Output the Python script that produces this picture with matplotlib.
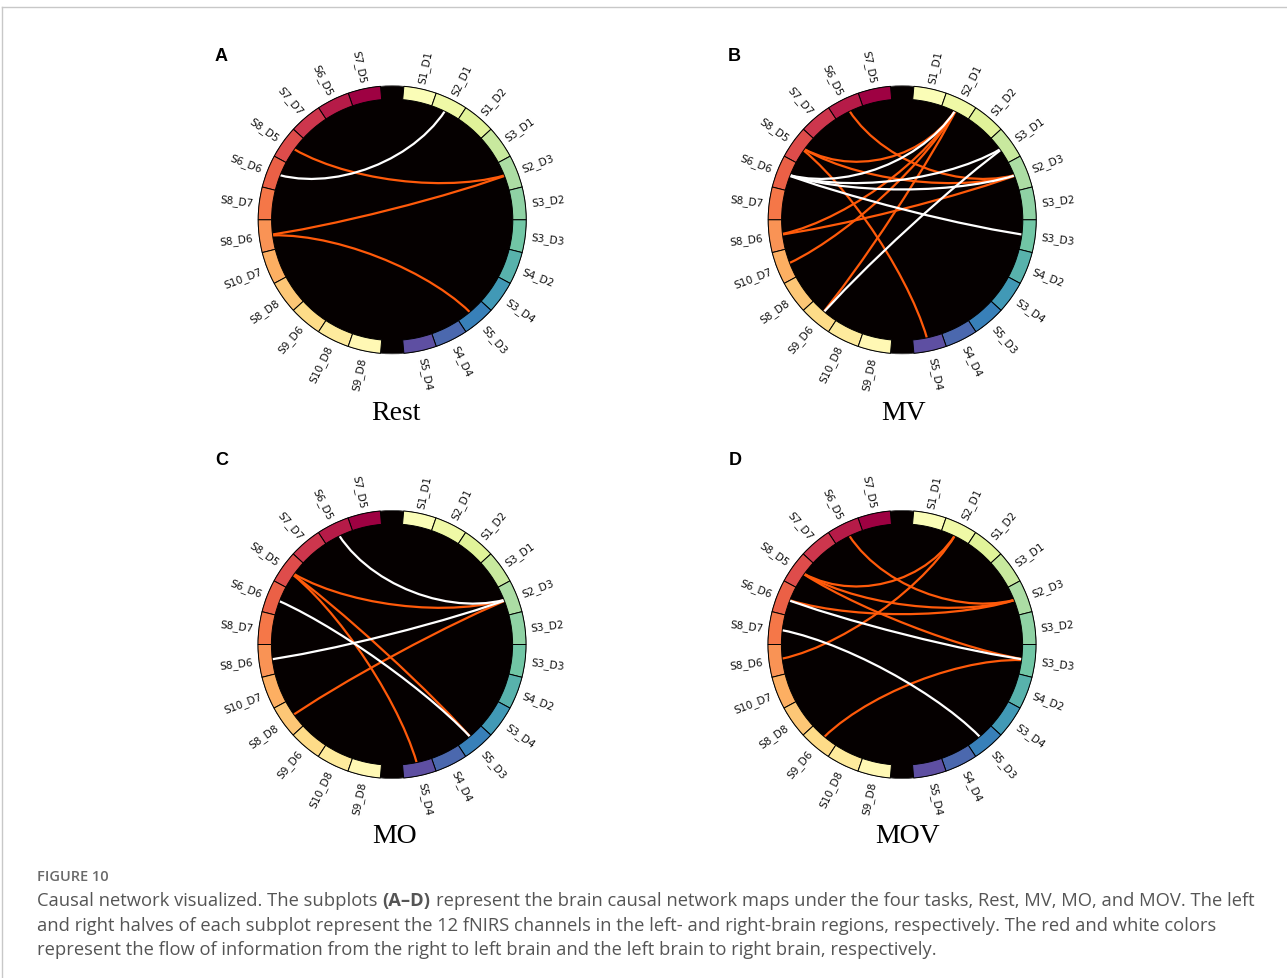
import numpy as np
import matplotlib
matplotlib.use("Agg")
import matplotlib.pyplot as plt
from matplotlib.patches import Wedge, Circle, PathPatch
from matplotlib.path import Path

W, H, DPI = 1287, 979, 100

# fNIRS channels, left brain (top -> bottom) and right brain (top -> bottom)
left_channels = ["S7_D5", "S6_D5", "S7_D7", "S8_D5", "S6_D6", "S8_D7",
                 "S8_D6", "S10_D7", "S8_D8", "S9_D6", "S10_D8", "S9_D8"]
right_channels = ["S1_D1", "S2_D1", "S1_D2", "S3_D1", "S2_D3", "S3_D2",
                  "S3_D3", "S4_D2", "S3_D4", "S5_D3", "S4_D4", "S5_D4"]

tasks = ["Rest", "MV", "MO", "MOV"]
panel_letters = ["A", "B", "C", "D"]

# red = right -> left brain, white = left -> right brain
rest_red = [("S2_D3", "S8_D5"), ("S2_D3", "S8_D6"), ("S5_D3", "S8_D6")]
rest_white = [("S6_D6", "S2_D1")]

mv_red = [("S2_D3", "S6_D5"), ("S2_D1", "S8_D5"), ("S2_D3", "S8_D5"),
          ("S5_D4", "S8_D5"), ("S2_D1", "S8_D6"), ("S2_D3", "S8_D6"),
          ("S2_D1", "S10_D7"), ("S2_D1", "S9_D6")]
mv_white = [("S6_D6", "S2_D1"), ("S6_D6", "S3_D1"), ("S6_D6", "S2_D3"),
            ("S6_D6", "S3_D3"), ("S9_D6", "S3_D1")]

mo_red = [("S2_D3", "S8_D5"), ("S5_D4", "S8_D5"), ("S5_D3", "S8_D5"),
          ("S2_D3", "S8_D8")]
mo_white = [("S6_D5", "S2_D3"), ("S8_D6", "S2_D3"), ("S6_D6", "S5_D3")]

mov_red = [("S2_D3", "S6_D5"), ("S2_D1", "S8_D5"), ("S2_D3", "S8_D5"),
           ("S3_D3", "S8_D5"), ("S2_D3", "S6_D6"), ("S2_D1", "S8_D6"),
           ("S3_D3", "S9_D6")]
mov_white = [("S6_D6", "S3_D3"), ("S8_D7", "S5_D3")]

red_edges = [rest_red, mv_red, mo_red, mov_red]
white_edges = [rest_white, mv_white, mo_white, mov_white]

caption_head = "FIGURE 10"
caption_lines = [
    ("Causal network visualized. The subplots", "(A\u2013D)",
     "represent the brain causal network maps under the four tasks, Rest, MV, MO, and MOV. The left"),
    ("and right halves of each subplot represent the 12 fNIRS channels in the left- and right-brain regions, respectively. The red and white colors", None, None),
    ("represent the flow of information from the right to left brain and the left brain to right brain, respectively.", None, None),
]

# layout of the circle (degrees)
gap = 10.0
step = (360.0 - 2 * gap) / (len(left_channels) + len(right_channels))
cw = {}
for k, name in enumerate(right_channels):
    cw[name] = gap / 2 + step * (k + 0.5)
for k, name in enumerate(left_channels):
    cw[name] = -(gap / 2 + step * (k + 0.5))

order = left_channels + right_channels
cmap = plt.get_cmap("Spectral")
node_colors = {n: cmap(i / (len(order) - 1)) for i, n in enumerate(order)}

RED = "#ff5a0a"


def unit(name):
    t = np.deg2rad(90 - cw[name])
    return np.array([np.cos(t), np.sin(t)])


def draw_panel(ax, reds, whites):
    ax.add_patch(Circle((0, 0), 1.0, facecolor="#050000", edgecolor="#444444",
                        lw=0.6, zorder=0))
    for pairs, color in ((reds, RED), (whites, "white")):
        for a, b in pairs:
            p0, p3 = unit(a), unit(b)
            path = Path([p0, 0.5 * p0, 0.5 * p3, p3],
                        [Path.MOVETO, Path.CURVE4, Path.CURVE4, Path.CURVE4])
            ax.add_patch(PathPatch(path, fill=False, edgecolor=color,
                                   lw=1.6, zorder=2))
    for name in order:
        ang = 90 - cw[name]
        ax.add_patch(Wedge((0, 0), 1.0, ang - step / 2, ang + step / 2,
                           width=0.1, facecolor=node_colors[name],
                           edgecolor="black", lw=0.7, zorder=3))
        r = np.deg2rad(ang)
        x, y = 1.045 * np.cos(r), 1.045 * np.sin(r)
        if cw[name] > 0:
            rot, ha = ang, "left"
        else:
            rot, ha = ang - 180, "right"
        ax.text(x, y, name, rotation=rot, rotation_mode="anchor", ha=ha,
                va="center", fontsize=7.6, family="DejaVu Sans", color="#111111")
    ax.set_xlim(-1.5, 1.5)
    ax.set_ylim(-1.5, 1.5)
    ax.axis("off")


fig = plt.figure(figsize=(W / DPI, H / DPI), dpi=DPI)

centers = [(392.2, 220.8), (902.2, 220.8), (392.0, 645.5), (902.0, 645.5)]
R = 134.0
half = 1.5 * R
title_pos = [(395.5, 420), (904, 420), (394.5, 843), (908, 843)]
letter_pos = [(215, 60.7), (728, 60.7), (215, 465), (729, 465)]

for i in range(4):
    cx, cy = centers[i]
    ax = fig.add_axes([(cx - half) / W, (H - cy - half) / H, 2 * half / W, 2 * half / H])
    draw_panel(ax, red_edges[i], white_edges[i])
    tx, ty = title_pos[i]
    fig.text(tx / W, 1 - ty / H, tasks[i], ha="center", va="baseline",
             family="Liberation Serif", fontsize=20, color="black")
    lx, ly = letter_pos[i]
    fig.text(lx / W, 1 - ly / H, panel_letters[i], ha="left", va="baseline",
             family="Liberation Sans", weight="bold", fontsize=13, color="black")

# overlay axes in pixel coords for the page frame and the caption
page = fig.add_axes([0, 0, 1, 1], zorder=-1)
page.set_xlim(0, W)
page.set_ylim(H, 0)
page.axis("off")
page.plot([2, W], [7.5, 7.5], color="#c8c8c8", lw=1)
page.plot([2, 2], [7.5, H], color="#c8c8c8", lw=1)

page.text(37, 877, caption_head, ha="left", va="center",
          family="Open Sans", weight="semibold", fontsize=10.5, color="#6a6a6a")
cap_y = [901, 926, 950]
cap_kw = dict(family="Open Sans", fontsize=13.2, color="#555555")
for (t1, tb, t2), y in zip(caption_lines, cap_y):
    txt = page.text(37, y, t1, ha="left", va="center", **cap_kw)
    if tb:
        bold = page.annotate(tb, xy=(1, 0.5), xycoords=txt, xytext=(3.6, 0),
                             textcoords="offset points", ha="left", va="center",
                             weight="bold", annotation_clip=False, **cap_kw)
        page.annotate(t2, xy=(1, 0.5), xycoords=bold, xytext=(3.6, 0),
                      textcoords="offset points", ha="left", va="center",
                      annotation_clip=False, **cap_kw)

fig.savefig("out.png", dpi=DPI, facecolor="white")
